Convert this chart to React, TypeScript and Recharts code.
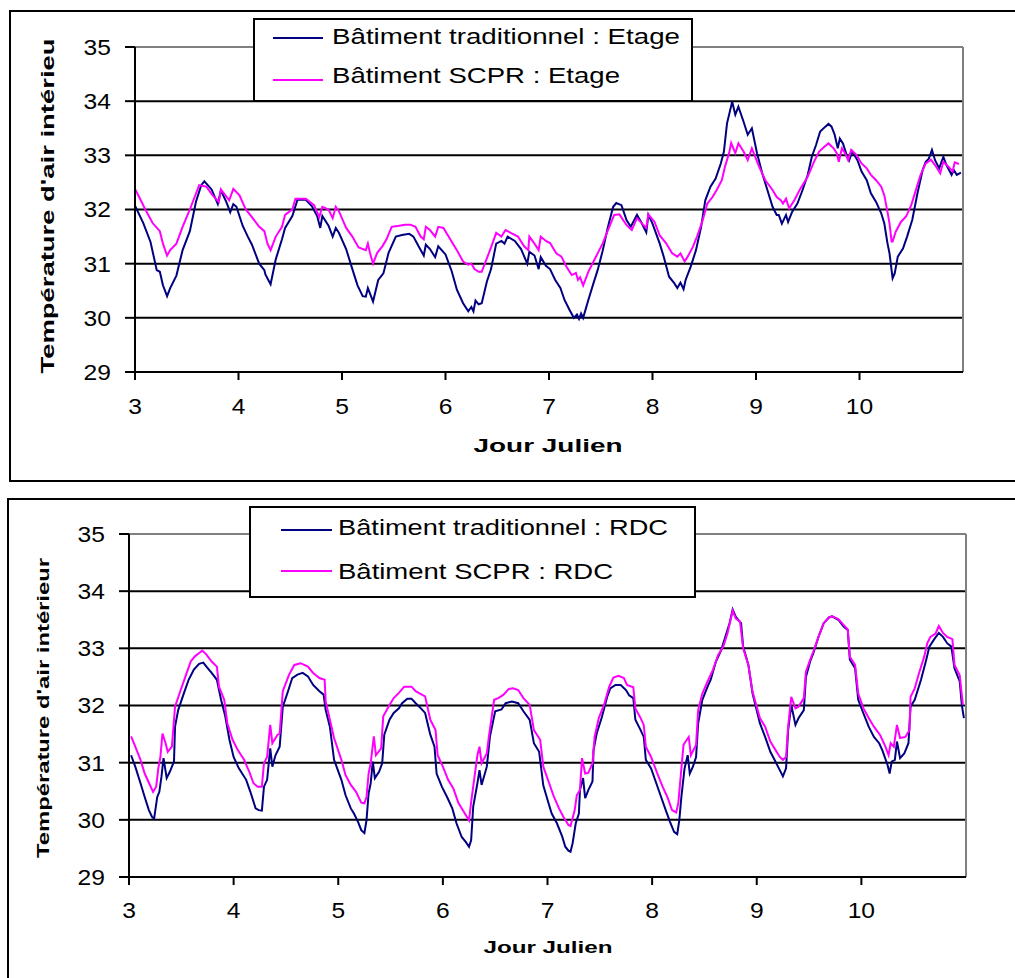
import React from 'react';
import { LineChart, Line, XAxis, YAxis, CartesianGrid, ReferenceLine, Legend } from 'recharts';

const FONT = 'Arial, "Liberation Sans", sans-serif';

const xTicks = [3, 4, 5, 6, 7, 8, 9, 10];
const yTicks = [29, 30, 31, 32, 33, 34, 35];

const topTitle = "Température d'air intérieu";
const bottomTitle = "Température d'air intérieur";
const xTitle = 'Jour Julien';
const topNames = ['Bâtiment traditionnel : Etage', 'Bâtiment SCPR : Etage'];
const bottomNames = ['Bâtiment traditionnel : RDC', 'Bâtiment SCPR : RDC'];

// Etage – traditionnel
const etageTradDays = [3.0, 3.08, 3.15, 3.21, 3.24, 3.27, 3.31, 3.34, 3.4, 3.46, 3.53, 3.59, 3.64, 3.67, 3.74, 3.8, 3.83, 3.88, 3.92, 3.95, 3.98, 4.04, 4.09, 4.13, 4.2, 4.25, 4.26, 4.31, 4.36, 4.42, 4.45, 4.52, 4.57, 4.65, 4.71, 4.76, 4.79, 4.81, 4.87, 4.91, 4.94,
  4.97, 5.04, 5.1, 5.15, 5.2, 5.23, 5.25, 5.27, 5.3, 5.35, 5.4, 5.45, 5.52, 5.58, 5.65, 5.69, 5.74, 5.79, 5.81, 5.85, 5.9, 5.93, 6.0, 6.06, 6.11, 6.17, 6.22, 6.25, 6.27, 6.29, 6.32, 6.35, 6.4, 6.44, 6.49, 6.54, 6.57, 6.6, 6.67, 6.73, 6.79, 6.81, 6.86, 6.9, 6.92, 6.97,
  7.01, 7.06, 7.11, 7.15, 7.2, 7.24, 7.27, 7.29, 7.31, 7.33, 7.38, 7.43, 7.47, 7.52, 7.57, 7.62, 7.65, 7.7, 7.75, 7.79, 7.85, 7.89, 7.94, 7.96, 8.0, 8.07, 8.11, 8.16, 8.21, 8.24, 8.27, 8.3, 8.32, 8.37, 8.42, 8.47, 8.51, 8.56, 8.61, 8.66, 8.69, 8.72, 8.77, 8.8, 8.83, 8.88, 8.92, 8.96,
  9.01, 9.06, 9.11, 9.16, 9.2, 9.22, 9.25, 9.29, 9.31, 9.35, 9.4, 9.45, 9.5, 9.54, 9.58, 9.62, 9.67, 9.7, 9.73, 9.76, 9.79, 9.81, 9.84, 9.87, 9.9, 9.93, 9.98, 10.02, 10.07, 10.11, 10.16, 10.21, 10.24, 10.27, 10.29, 10.31, 10.32, 10.34, 10.37, 10.42, 10.46, 10.51, 10.56, 10.61, 10.64, 10.67, 10.7, 10.73, 10.77, 10.81, 10.84, 10.89, 10.91, 10.94, 10.98];
const etageTradTemps = [32.07, 31.75, 31.4, 30.88, 30.85, 30.6, 30.4, 30.55, 30.78, 31.25, 31.6, 32.15, 32.45, 32.52, 32.37, 32.1, 32.35, 32.15, 31.95, 32.1, 32.05, 31.7, 31.5, 31.35, 31.0, 30.88, 30.8, 30.62, 31.08, 31.45, 31.66, 31.88, 32.18, 32.18, 32.06, 31.88, 31.66, 31.88, 31.7, 31.5, 31.66,
  31.57, 31.27, 30.9, 30.6, 30.4, 30.39, 30.55, 30.45, 30.3, 30.7, 30.82, 31.2, 31.5, 31.53, 31.55, 31.5, 31.32, 31.15, 31.35, 31.27, 31.12, 31.32, 31.17, 30.86, 30.52, 30.27, 30.12, 30.2, 30.12, 30.32, 30.25, 30.27, 30.67, 30.9, 31.37, 31.42, 31.37, 31.5, 31.42, 31.27, 31.0, 31.22, 31.15, 30.9, 31.12, 30.96,
  30.9, 30.7, 30.55, 30.33, 30.14, 30.0, 30.06, 29.98, 30.08, 30.0, 30.33, 30.64, 30.88, 31.25, 31.68, 32.05, 32.12, 32.08, 31.8, 31.68, 31.9, 31.77, 31.58, 31.9, 31.74, 31.37, 31.12, 30.76, 30.64, 30.55, 30.65, 30.53, 30.7, 30.95, 31.25, 31.68, 32.17, 32.42, 32.57, 32.85, 33.07, 33.59, 33.99, 33.75, 33.9, 33.62, 33.38, 33.5,
  33.04, 32.67, 32.36, 32.05, 31.9, 31.9, 31.74, 31.9, 31.77, 31.96, 32.11, 32.36, 32.64, 32.98, 33.19, 33.44, 33.53, 33.58, 33.53, 33.38, 33.13, 33.31, 33.22, 33.04, 32.91, 33.07, 32.91, 32.7, 32.54, 32.3, 32.14, 31.93, 31.74, 31.38, 31.19, 30.88, 30.73, 30.82, 31.13, 31.28, 31.5, 31.81, 32.3, 32.73, 32.88, 32.94, 33.1, 32.91, 32.76, 32.97, 32.82, 32.64, 32.73, 32.64, 32.68];

// Etage – SCPR
const etageScprDays = [3.0, 3.04, 3.1, 3.17, 3.24, 3.27, 3.31, 3.34, 3.4, 3.46, 3.53, 3.59, 3.62, 3.69, 3.75, 3.81, 3.83, 3.91, 3.95, 4.01, 4.07, 4.13, 4.2, 4.25, 4.28, 4.31, 4.36, 4.42, 4.45, 4.52, 4.55, 4.65, 4.73, 4.78, 4.81, 4.87, 4.91, 4.94,
  4.97, 5.04, 5.1, 5.16, 5.23, 5.25, 5.27, 5.3, 5.34, 5.39, 5.43, 5.48, 5.55, 5.61, 5.66, 5.71, 5.76, 5.79, 5.81, 5.85, 5.9, 5.93, 5.98, 6.04, 6.11, 6.17, 6.22, 6.25, 6.28, 6.32, 6.35, 6.38, 6.44, 6.49, 6.54, 6.58, 6.63, 6.7, 6.76, 6.8, 6.81, 6.86, 6.9, 6.92, 6.97,
  7.01, 7.07, 7.12, 7.17, 7.22, 7.26, 7.28, 7.3, 7.33, 7.38, 7.43, 7.47, 7.52, 7.57, 7.63, 7.68, 7.75, 7.8, 7.85, 7.9, 7.94, 7.96, 8.02, 8.07, 8.13, 8.19, 8.24, 8.27, 8.31, 8.34, 8.39, 8.43, 8.48, 8.53, 8.58, 8.62, 8.67, 8.7, 8.74, 8.76, 8.8, 8.83, 8.88, 8.92, 8.96,
  9.03, 9.09, 9.16, 9.2, 9.24, 9.26, 9.29, 9.32, 9.37, 9.43, 9.5, 9.56, 9.61, 9.66, 9.7, 9.75, 9.78, 9.8, 9.83, 9.86, 9.89, 9.92, 9.97, 10.02, 10.07, 10.11, 10.16, 10.21, 10.24, 10.27, 10.29, 10.31, 10.32, 10.35, 10.4, 10.45, 10.5, 10.54, 10.59, 10.64, 10.69, 10.73, 10.78, 10.81, 10.86, 10.9, 10.92, 10.96];
const etageScprTemps = [32.38, 32.23, 32.0, 31.75, 31.6, 31.37, 31.15, 31.25, 31.37, 31.68, 32.0, 32.3, 32.45, 32.42, 32.26, 32.14, 32.37, 32.17, 32.38, 32.26, 32.0, 31.86, 31.68, 31.6, 31.37, 31.25, 31.5, 31.68, 31.9, 32.0, 32.2, 32.2, 32.08, 31.86, 32.05, 32.0, 31.84, 32.05,
  31.97, 31.66, 31.5, 31.3, 31.25, 31.37, 31.2, 31.0, 31.2, 31.32, 31.45, 31.68, 31.7, 31.72, 31.72, 31.68, 31.5, 31.45, 31.68, 31.62, 31.5, 31.68, 31.66, 31.47, 31.25, 31.04, 30.98, 31.0, 30.9, 30.85, 30.85, 31.0, 31.3, 31.57, 31.5, 31.62, 31.57, 31.5, 31.32, 31.25, 31.5, 31.37, 31.25, 31.5, 31.42,
  31.38, 31.19, 31.13, 30.94, 30.79, 30.83, 30.7, 30.75, 30.6, 30.85, 31.04, 31.19, 31.38, 31.62, 31.9, 31.91, 31.71, 31.62, 31.84, 31.74, 31.66, 31.91, 31.77, 31.52, 31.38, 31.19, 31.13, 31.19, 31.04, 31.13, 31.31, 31.5, 31.77, 32.11, 32.23, 32.36, 32.54, 32.79, 33.04, 33.23, 33.04, 33.22, 33.07, 32.91, 33.13,
  32.79, 32.54, 32.36, 32.23, 32.17, 32.11, 32.2, 32.02, 32.17, 32.39, 32.61, 32.88, 33.07, 33.16, 33.22, 33.13, 33.04, 32.88, 33.13, 33.04, 32.91, 33.1, 33.01, 32.85, 32.76, 32.64, 32.54, 32.42, 32.26, 31.96, 31.74, 31.41, 31.41, 31.59, 31.77, 31.87, 32.08, 32.33, 32.64, 32.85, 32.92, 32.82, 32.67, 32.88, 32.79, 32.7, 32.87, 32.84];

// RDC – traditionnel
const rdcTradDays = [3.02, 3.06, 3.11, 3.15, 3.19, 3.22, 3.24, 3.27, 3.29, 3.31, 3.33, 3.36, 3.39, 3.43, 3.44, 3.47, 3.52, 3.57, 3.62, 3.67, 3.71, 3.74, 3.79, 3.84, 3.88, 3.92, 3.96, 4.0, 4.05, 4.12, 4.16, 4.21, 4.24, 4.27, 4.29, 4.32, 4.35, 4.37, 4.4, 4.44, 4.47, 4.52, 4.56, 4.61, 4.66, 4.71, 4.76, 4.82, 4.86, 4.88, 4.92, 4.96,
  5.03, 5.07, 5.12, 5.15, 5.19, 5.22, 5.25, 5.27, 5.29, 5.31, 5.33, 5.35, 5.39, 5.42, 5.44, 5.49, 5.53, 5.58, 5.61, 5.66, 5.7, 5.74, 5.79, 5.83, 5.88, 5.92, 5.94, 5.99, 6.04, 6.09, 6.13, 6.18, 6.22, 6.25, 6.27, 6.29, 6.33, 6.35, 6.37, 6.42, 6.45, 6.5, 6.56, 6.6, 6.66, 6.72, 6.77, 6.83, 6.87, 6.92, 6.96,
  7.01, 7.04, 7.09, 7.14, 7.17, 7.2, 7.22, 7.24, 7.27, 7.3, 7.31, 7.34, 7.36, 7.39, 7.43, 7.44, 7.47, 7.52, 7.57, 7.6, 7.65, 7.7, 7.75, 7.78, 7.82, 7.84, 7.89, 7.92, 7.94, 7.99, 8.04, 8.08, 8.13, 8.17, 8.21, 8.24, 8.26, 8.28, 8.31, 8.34, 8.36, 8.39, 8.42, 8.44, 8.48, 8.53, 8.56, 8.61, 8.66, 8.7, 8.74, 8.77, 8.8, 8.85, 8.87, 8.92, 8.96,
  9.03, 9.08, 9.13, 9.17, 9.22, 9.25, 9.28, 9.3, 9.33, 9.37, 9.4, 9.45, 9.47, 9.51, 9.54, 9.59, 9.64, 9.69, 9.72, 9.78, 9.83, 9.87, 9.89, 9.94, 9.97, 10.02, 10.07, 10.12, 10.17, 10.2, 10.25, 10.27, 10.29, 10.32, 10.34, 10.37, 10.41, 10.45, 10.47, 10.51, 10.57, 10.62, 10.65, 10.7, 10.74, 10.78, 10.82, 10.86, 10.89, 10.94, 10.96, 10.98];
const rdcTradTemps = [31.13, 30.93, 30.64, 30.4, 30.17, 30.05, 30.02, 30.4, 30.49, 30.75, 31.08, 30.73, 30.84, 31.02, 31.63, 31.92, 32.19, 32.45, 32.63, 32.73, 32.75, 32.68, 32.57, 32.45, 32.1, 31.81, 31.4, 31.1, 30.9, 30.7, 30.49, 30.2, 30.17, 30.16, 30.58, 30.7, 31.25, 30.93, 31.13, 31.28, 31.98, 32.25, 32.48, 32.54, 32.57, 32.51, 32.36, 32.25, 32.19, 31.92, 31.63, 31.05,
  30.7, 30.43, 30.2, 30.11, 29.96, 29.82, 29.77, 29.99, 30.46, 30.64, 31.02, 30.73, 30.84, 30.99, 31.49, 31.75, 31.87, 31.95, 32.04, 32.12, 32.12, 32.04, 31.95, 31.87, 31.49, 31.28, 30.81, 30.58, 30.4, 30.2, 29.94, 29.7, 29.61, 29.53, 29.64, 30.23, 30.64, 30.87, 30.61, 30.93, 31.46, 31.9, 31.93, 32.04, 32.07, 32.04, 31.9, 31.75, 31.34, 31.19, 30.6,
  30.29, 30.11, 29.94, 29.71, 29.53, 29.46, 29.44, 29.59, 29.94, 30.11, 30.52, 30.73, 30.38, 30.52, 30.67, 31.22, 31.51, 31.8, 32.15, 32.3, 32.36, 32.36, 32.27, 32.18, 32.13, 31.75, 31.57, 31.45, 31.05, 30.9, 30.64, 30.43, 30.17, 29.97, 29.79, 29.75, 30.0, 30.41, 30.9, 31.13, 30.81, 30.93, 31.1, 31.69, 32.1, 32.33, 32.45, 32.77, 32.97, 33.2, 33.44, 33.68, 33.55, 33.44, 33.03, 32.71, 32.21,
  31.69, 31.45, 31.19, 31.05, 30.87, 30.76, 30.9, 31.57, 32.01, 31.66, 31.78, 31.92, 32.5, 32.77, 32.91, 33.2, 33.44, 33.54, 33.56, 33.5, 33.38, 33.32, 32.8, 32.65, 32.1, 31.86, 31.63, 31.45, 31.34, 31.22, 30.96, 30.81, 31.02, 31.05, 31.37, 31.08, 31.16, 31.34, 31.98, 32.1, 32.45, 32.8, 33.03, 33.17, 33.27, 33.2, 33.09, 33.03, 32.65, 32.42, 32.01, 31.78];

// RDC – SCPR
const rdcScprDays = [3.02, 3.06, 3.11, 3.15, 3.2, 3.23, 3.26, 3.28, 3.3, 3.32, 3.35, 3.37, 3.41, 3.44, 3.49, 3.54, 3.59, 3.63, 3.68, 3.7, 3.74, 3.79, 3.84, 3.86, 3.91, 3.94, 3.99, 4.04, 4.1, 4.15, 4.19, 4.23, 4.27, 4.29, 4.32, 4.35, 4.37, 4.42, 4.44, 4.47, 4.53, 4.58, 4.64, 4.71, 4.76, 4.82, 4.87, 4.88, 4.92, 4.96,
  5.03, 5.07, 5.12, 5.17, 5.22, 5.25, 5.27, 5.29, 5.31, 5.34, 5.36, 5.41, 5.43, 5.49, 5.53, 5.58, 5.63, 5.7, 5.74, 5.79, 5.83, 5.88, 5.93, 5.95, 6.0, 6.05, 6.1, 6.15, 6.2, 6.25, 6.27, 6.29, 6.33, 6.35, 6.37, 6.42, 6.44, 6.49, 6.53, 6.58, 6.63, 6.67, 6.72, 6.77, 6.83, 6.87, 6.93, 6.96,
  7.01, 7.06, 7.11, 7.15, 7.2, 7.22, 7.26, 7.28, 7.31, 7.33, 7.36, 7.39, 7.43, 7.45, 7.49, 7.54, 7.59, 7.63, 7.68, 7.73, 7.76, 7.82, 7.84, 7.89, 7.92, 7.94, 7.99, 8.05, 8.1, 8.15, 8.19, 8.23, 8.25, 8.27, 8.3, 8.32, 8.35, 8.37, 8.42, 8.44, 8.48, 8.53, 8.58, 8.63, 8.68, 8.72, 8.76, 8.77, 8.8, 8.84, 8.87, 8.92, 8.96,
  9.03, 9.08, 9.13, 9.17, 9.22, 9.25, 9.28, 9.3, 9.33, 9.37, 9.4, 9.45, 9.47, 9.51, 9.54, 9.59, 9.64, 9.69, 9.72, 9.78, 9.83, 9.87, 9.89, 9.94, 9.97, 10.02, 10.07, 10.12, 10.18, 10.23, 10.26, 10.28, 10.31, 10.34, 10.37, 10.42, 10.46, 10.47, 10.51, 10.55, 10.6, 10.63, 10.66, 10.71, 10.74, 10.78, 10.82, 10.87, 10.89, 10.94, 10.97];
const rdcScprTemps = [31.46, 31.28, 31.05, 30.81, 30.61, 30.49, 30.58, 30.9, 31.1, 31.51, 31.34, 31.19, 31.28, 31.98, 32.25, 32.51, 32.77, 32.86, 32.93, 32.96, 32.89, 32.77, 32.68, 32.33, 32.1, 31.69, 31.4, 31.22, 31.05, 30.84, 30.64, 30.58, 30.58, 30.99, 31.1, 31.66, 31.34, 31.49, 31.51, 32.25, 32.54, 32.71, 32.74, 32.68, 32.57, 32.48, 32.45, 32.07, 31.75, 31.43,
  31.05, 30.78, 30.61, 30.49, 30.3, 30.29, 30.4, 30.81, 30.99, 31.46, 31.13, 31.25, 31.81, 32.01, 32.13, 32.22, 32.33, 32.33, 32.25, 32.2, 32.16, 31.75, 31.57, 31.13, 30.93, 30.7, 30.55, 30.29, 30.14, 29.99, 30.31, 30.58, 31.13, 31.28, 30.99, 31.16, 31.46, 32.1, 32.13, 32.19, 32.29, 32.3, 32.27, 32.13, 32.01, 31.57, 31.4, 30.93,
  30.67, 30.41, 30.2, 30.06, 29.91, 29.89, 30.17, 30.43, 30.52, 31.08, 30.81, 30.82, 30.99, 31.45, 31.78, 32.01, 32.33, 32.49, 32.52, 32.48, 32.36, 32.32, 31.95, 31.78, 31.66, 31.28, 31.1, 30.81, 30.58, 30.38, 30.17, 30.13, 30.29, 30.7, 31.31, 31.37, 31.45, 31.13, 31.31, 31.92, 32.21, 32.42, 32.62, 32.88, 33.03, 33.26, 33.58, 33.66, 33.52, 33.47, 33.0, 32.71, 32.24,
  31.78, 31.63, 31.37, 31.25, 31.1, 31.05, 31.1, 31.63, 32.15, 31.95, 31.98, 32.13, 32.59, 32.8, 32.94, 33.2, 33.44, 33.54, 33.56, 33.51, 33.41, 33.33, 32.85, 32.71, 32.21, 31.95, 31.78, 31.63, 31.48, 31.28, 31.13, 31.34, 31.28, 31.66, 31.43, 31.45, 31.57, 32.15, 32.3, 32.56, 32.85, 33.09, 33.2, 33.26, 33.39, 33.27, 33.2, 33.16, 32.71, 32.53, 32.01];

const pair = (days: number[], temps: number[]) => days.map((d, i) => ({ day: d, temp: temps[i] }));

const etageTrad = pair(etageTradDays, etageTradTemps);
const etageScpr = pair(etageScprDays, etageScprTemps);
const rdcTrad = pair(rdcTradDays, rdcTradTemps);
const rdcScpr = pair(rdcScprDays, rdcScprTemps);

const NAVY = '#000080';
const MAGENTA = '#FF00FF';

const YTick = (props: any) => {
  const { x, y, payload } = props;
  const s = String(payload.value);
  return (
    <text x={x} y={y} dy="0.36em" textAnchor="end" fontFamily={FONT} fontSize={22} fill="#000"
      textLength={s.length * 13.7} lengthAdjust="spacingAndGlyphs">{s}</text>
  );
};

const XTick = (props: any) => {
  const { x, y, payload } = props;
  const s = String(payload.value);
  return (
    <text x={x} y={y} dy="0.71em" textAnchor="middle" fontFamily={FONT} fontSize={22} fill="#000"
      textLength={s.length * 13.7} lengthAdjust="spacingAndGlyphs">{s}</text>
  );
};

const Title = (props: any) => {
  const { px, py, rot, txt, size, len } = props;
  return (
    <text x={px} y={py} textAnchor="middle" fontFamily={FONT} fontWeight="bold" fontSize={size} fill="#000"
      textLength={len} lengthAdjust="spacingAndGlyphs"
      transform={rot ? `rotate(-90 ${px} ${py})` : undefined}>{txt}</text>
  );
};

const LegendBox = (props: any) => {
  const { w, h, names, lx1, lx2, ly, tx, ty, lens } = props;
  return (
    <svg width={w} height={h} style={{ display: 'block' }}>
      <rect x={1} y={1} width={w - 2} height={h - 2} fill="#fff" stroke="#000" strokeWidth={2} />
      <line x1={lx1} x2={lx2} y1={ly[0]} y2={ly[0]} stroke={NAVY} strokeWidth={2} />
      <line x1={lx1} x2={lx2} y1={ly[1]} y2={ly[1]} stroke={MAGENTA} strokeWidth={2} />
      <text x={tx} y={ty[0]} fontFamily={FONT} fontSize={22} fill="#000" textLength={lens[0]} lengthAdjust="spacingAndGlyphs">{names[0]}</text>
      <text x={tx} y={ty[1]} fontFamily={FONT} fontSize={22} fill="#000" textLength={lens[1]} lengthAdjust="spacingAndGlyphs">{names[1]}</text>
    </svg>
  );
};

export default function App() {
  return (
    <div style={{ position: 'absolute', left: 0, top: 0, width: 1015, height: 978, overflow: 'hidden', background: '#fff' }}>
      <div style={{ position: 'absolute', left: 9, top: 10, width: 1030, height: 472, border: '2px solid #000', boxSizing: 'border-box' }} />
      <div style={{ position: 'absolute', left: 7, top: 498, width: 1030, height: 500, border: '2px solid #000', boxSizing: 'border-box' }} />

      <div style={{ position: 'absolute', left: 0, top: 0 }}>
        <LineChart width={1015} height={482} margin={{ top: 47, right: 52, bottom: 80, left: 75 }}>
          <CartesianGrid vertical={false} stroke="#000" strokeWidth={2} />
          <XAxis type="number" dataKey="day" domain={[3, 11]} ticks={xTicks} allowDataOverflow height={30}
            tickSize={8} tickMargin={18} tick={<XTick />} axisLine={{ stroke: '#000', strokeWidth: 2 }} tickLine={{ stroke: '#000', strokeWidth: 2 }}
            label={<Title px={548} py={452} txt={xTitle} size={19} len={149} />} />
          <YAxis type="number" domain={[29, 35]} ticks={yTicks} width={60} tickSize={10} tickMargin={14} tick={<YTick />}
            axisLine={{ stroke: '#000', strokeWidth: 2 }} tickLine={{ stroke: '#000', strokeWidth: 2 }}
            label={<Title px={54} py={206} rot txt={topTitle} size={19} len={335} />} />
          <ReferenceLine y={35} stroke="#808080" strokeWidth={2} />
          <ReferenceLine x={11} stroke="#808080" strokeWidth={2} />
          <Line data={etageTrad} dataKey="temp" type="linear" stroke={NAVY} strokeWidth={2} dot={false} isAnimationActive={false} />
          <Line data={etageScpr} dataKey="temp" type="linear" stroke={MAGENTA} strokeWidth={2} dot={false} isAnimationActive={false} />
          <Legend layout="horizontal" verticalAlign="middle" align="center"
            wrapperStyle={{ position: 'absolute', left: 253, top: 18, width: 440, height: 84 }}
            content={() => <LegendBox w={440} h={84} names={topNames} lx1={20} lx2={70} ly={[20, 62]} tx={79} ty={[26, 65]} lens={[348, 288]} />} />
        </LineChart>
      </div>

      <div style={{ position: 'absolute', left: 0, top: 490 }}>
        <LineChart width={1015} height={488} margin={{ top: 44, right: 49, bottom: 71, left: 69 }}>
          <CartesianGrid vertical={false} stroke="#000" strokeWidth={2} />
          <XAxis type="number" dataKey="day" domain={[3, 11]} ticks={xTicks} allowDataOverflow height={30}
            tickSize={8} tickMargin={17} tick={<XTick />} axisLine={{ stroke: '#000', strokeWidth: 2 }} tickLine={{ stroke: '#000', strokeWidth: 2 }}
            label={<Title px={548} py={463} txt={xTitle} size={16} len={129} />} />
          <YAxis type="number" domain={[29, 35]} ticks={yTicks} width={60} tickSize={10} tickMargin={14} tick={<YTick />}
            axisLine={{ stroke: '#000', strokeWidth: 2 }} tickLine={{ stroke: '#000', strokeWidth: 2 }}
            label={<Title px={49} py={218} rot txt={bottomTitle} size={16} len={300} />} />
          <ReferenceLine y={35} stroke="#808080" strokeWidth={2} />
          <ReferenceLine x={11} stroke="#808080" strokeWidth={2} />
          <Line data={rdcTrad} dataKey="temp" type="linear" stroke={NAVY} strokeWidth={2} dot={false} isAnimationActive={false} />
          <Line data={rdcScpr} dataKey="temp" type="linear" stroke={MAGENTA} strokeWidth={2} dot={false} isAnimationActive={false} />
          <Legend layout="horizontal" verticalAlign="middle" align="center"
            wrapperStyle={{ position: 'absolute', left: 249, top: 16, width: 447, height: 92 }}
            content={() => <LegendBox w={447} h={92} names={bottomNames} lx1={32} lx2={83} ly={[24, 65]} tx={89} ty={[29, 73]} lens={[330, 275]} />} />
        </LineChart>
      </div>
    </div>
  );
}
